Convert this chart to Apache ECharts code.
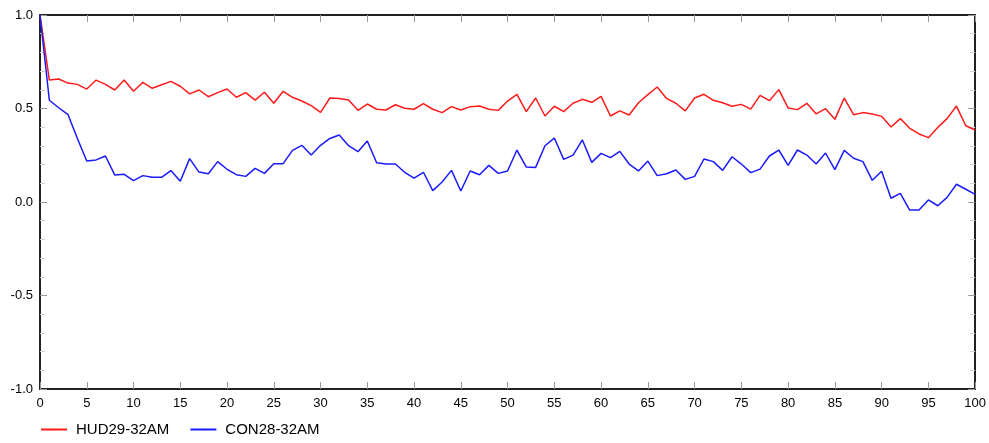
<!DOCTYPE html>
<html>
<head>
<meta charset="utf-8">
<script src="https://cdn.jsdelivr.net/npm/echarts@6/dist/echarts.min.js"></script>
<style>
html,body{margin:0;padding:0;background:#fff;}
#main{width:989px;height:443px;}
</style>
</head>
<body>
<div id="main"></div>
<script>
var seriesNames = ['HUD29-32AM', 'CON28-32AM'];

var hud = [1.0, 0.652, 0.658, 0.636, 0.629, 0.604, 0.652, 0.629, 0.599, 0.652,
  0.592, 0.640, 0.608, 0.627, 0.645, 0.619, 0.578, 0.599, 0.563, 0.585,
  0.604, 0.560, 0.585, 0.545, 0.587, 0.528, 0.592, 0.560, 0.540, 0.515,
  0.479, 0.556, 0.554, 0.545, 0.490, 0.524, 0.496, 0.492, 0.520, 0.501,
  0.496, 0.526, 0.496, 0.478, 0.510, 0.492, 0.510, 0.513, 0.496, 0.490,
  0.540, 0.576, 0.483, 0.556, 0.460, 0.512, 0.483, 0.528, 0.549, 0.533,
  0.565, 0.460, 0.487, 0.465, 0.531, 0.574, 0.615, 0.554, 0.528, 0.487,
  0.556, 0.576, 0.544, 0.531, 0.512, 0.522, 0.497, 0.570, 0.542, 0.601,
  0.503, 0.494, 0.528, 0.471, 0.499, 0.442, 0.556, 0.467, 0.478, 0.471,
  0.458, 0.401, 0.446, 0.394, 0.364, 0.344, 0.399, 0.446, 0.513, 0.408,
  0.385];

var con = [1.0, 0.544, 0.504, 0.467, 0.340, 0.219, 0.225, 0.246, 0.144, 0.148,
  0.114, 0.141, 0.132, 0.132, 0.168, 0.111, 0.232, 0.160, 0.151, 0.216,
  0.175, 0.146, 0.137, 0.180, 0.153, 0.205, 0.205, 0.276, 0.303, 0.251,
  0.303, 0.340, 0.358, 0.301, 0.269, 0.326, 0.210, 0.203, 0.203, 0.159,
  0.128, 0.159, 0.061, 0.107, 0.169, 0.059, 0.166, 0.146, 0.196, 0.153,
  0.166, 0.278, 0.187, 0.185, 0.301, 0.342, 0.228, 0.251, 0.332, 0.212,
  0.260, 0.237, 0.271, 0.203, 0.166, 0.219, 0.141, 0.151, 0.171, 0.121,
  0.137, 0.230, 0.216, 0.169, 0.242, 0.203, 0.157, 0.176, 0.246, 0.278,
  0.196, 0.278, 0.251, 0.203, 0.262, 0.173, 0.276, 0.234, 0.216, 0.116,
  0.164, 0.020, 0.046, -0.043, -0.043, 0.011, -0.020, 0.025, 0.095, 0.068,
  0.041];

function pairs(arr) {
  var out = [];
  for (var i = 0; i < arr.length; i++) {
    out.push([i, arr[i]]);
  }
  return out;
}

var font = 'Liberation Sans, Arial, sans-serif';
var frame = {show: true, onZero: false, lineStyle: {color: '#222', width: 2}};
var tick = {show: true, inside: true, length: 7, lineStyle: {color: '#999', width: 1}};
var minor = {show: true, splitNumber: 5, length: 5, lineStyle: {color: '#d4d4d4'}};

echarts.init(document.getElementById('main')).setOption({
  animation: false,
  grid: {left: 40, right: 13, top: 15, bottom: 54},
  legend: {
    left: 35, bottom: 1,
    itemWidth: 26, itemHeight: 2, itemGap: 20,
    textStyle: {fontFamily: font, fontSize: 15, color: '#000', padding: [0, 0, 0, 4]},
    data: seriesNames
  },
  xAxis: [{
    type: 'value', min: 0, max: 100, interval: 5,
    axisLine: frame, axisTick: tick,
    axisLabel: {fontFamily: font, fontSize: 13, color: '#000', margin: 8},
    splitLine: {show: false}
  }, {
    type: 'value', position: 'top', min: 0, max: 100, interval: 5,
    axisLine: frame, axisTick: tick,
    axisLabel: {show: false}, splitLine: {show: false}
  }],
  yAxis: [{
    type: 'value', min: -1, max: 1, interval: 0.5,
    axisLine: frame, axisTick: tick, minorTick: minor,
    axisLabel: {
      fontFamily: font, fontSize: 13, color: '#000', margin: 7,
      formatter: function (v) { return v.toFixed(1); }
    },
    splitLine: {show: false}
  }, {
    type: 'value', position: 'right', min: -1, max: 1, interval: 0.5,
    axisLine: frame, axisTick: tick, minorTick: minor,
    axisLabel: {show: false}, splitLine: {show: false}
  }],
  series: [{
    name: seriesNames[0], type: 'line', symbol: 'none',
    lineStyle: {color: '#ff1a1a', width: 1.5}, itemStyle: {color: '#ff1a1a'},
    data: pairs(hud)
  }, {
    name: seriesNames[1], type: 'line', symbol: 'none',
    lineStyle: {color: '#1a1aff', width: 1.5}, itemStyle: {color: '#1a1aff'},
    data: pairs(con)
  }]
});
</script>
</body>
</html>
